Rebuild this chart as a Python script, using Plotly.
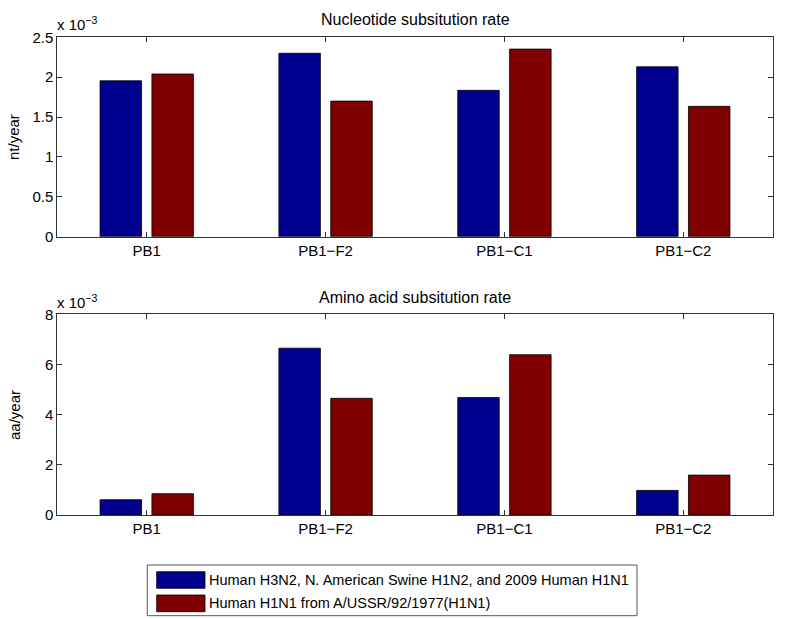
import plotly.graph_objects as go

# ---- data (values in units of 1e-3) ----
categories = ["PB1", "PB1\u2212F2", "PB1\u2212C1", "PB1\u2212C2"]
series_names = ["Human H3N2, N. American Swine H1N2, and 2009 Human H1N1",
                "Human H1N1 from A/USSR/92/1977(H1N1)"]
nt_blue = [1.955, 2.30, 1.835, 2.13]
nt_red = [2.04, 1.70, 2.352, 1.634]
aa_blue = [0.61, 6.65, 4.68, 0.98]
aa_red = [0.85, 4.65, 6.39, 1.59]
nt_ticks = [0, 0.5, 1, 1.5, 2, 2.5]
aa_ticks = [0, 2, 4, 6, 8]
titles = ["Nucleotide subsitution rate", "Amino acid subsitution rate"]
ylabels = ["nt/year", "aa/year"]

colors = ["#00008F", "#800000"]
W, H = 785, 619
FONT = "Liberation Sans, Arial, Helvetica, sans-serif"
AXC = "#333333"

def px(x):
    return x / W

def py(y):
    return 1 - y / H

fig = go.Figure()
for i, (vals, name) in enumerate(zip([nt_blue, nt_red], series_names)):
    fig.add_trace(go.Bar(x=categories, y=vals, name=name, marker_color=colors[i],
                         marker_line_color="black", marker_line_width=0.8,
                         xaxis="x", yaxis="y", showlegend=False))
for i, (vals, name) in enumerate(zip([aa_blue, aa_red], series_names)):
    fig.add_trace(go.Bar(x=categories, y=vals, name=name, marker_color=colors[i],
                         marker_line_color="black", marker_line_width=0.8,
                         xaxis="x2", yaxis="y2", showlegend=False))

xdom = [px(57.3), px(772.7)]
top_dom = [py(236.7), py(37.3)]
bot_dom = [py(515), py(314.3)]

axis_common = dict(showline=True, linecolor=AXC, linewidth=1, mirror="ticks",
                   ticks="inside", ticklen=5, tickcolor=AXC, tickwidth=1,
                   showgrid=False, zeroline=False, automargin=False,
                   tickfont=dict(family=FONT, size=15, color="black"))

fig.update_layout(
    template="none",
    width=W, height=H,
    margin=dict(l=0, r=0, t=0, b=0, pad=0, autoexpand=False),
    plot_bgcolor="white", paper_bgcolor="white",
    barmode="group", bargap=0.42, bargroupgap=0.2,
    font=dict(family=FONT, color="black"),
    xaxis=dict(domain=xdom, anchor="y", range=[-0.5, 3.5], **axis_common),
    yaxis=dict(domain=top_dom, anchor="x", range=[0, 2.5], tickvals=nt_ticks,
               ticktext=[f"{t:g}" for t in nt_ticks], **axis_common),
    xaxis2=dict(domain=xdom, anchor="y2", range=[-0.5, 3.5], **axis_common),
    yaxis2=dict(domain=bot_dom, anchor="x2", range=[0, 8], tickvals=aa_ticks,
                ticktext=[f"{t:g}" for t in aa_ticks], **axis_common),
)

anns = []
# titles
for t, ycen in zip(titles, [20, 298]):
    anns.append(dict(text=t, x=(xdom[0] + xdom[1]) / 2, y=py(ycen), xref="paper", yref="paper",
                     showarrow=False, font=dict(size=16, family=FONT, color="black"),
                     xanchor="center", yanchor="middle"))
# exponent labels
for ybase in [35, 313]:
    anns.append(dict(text="x 10<sup>\u22123</sup>", x=px(55), y=py(ybase), xref="paper", yref="paper",
                     showarrow=False, font=dict(size=15, family=FONT, color="black"),
                     xanchor="left", yanchor="bottom"))
# y labels
for lab, ycen in zip(ylabels, [137, 415]):
    anns.append(dict(text=lab, x=px(14), y=py(ycen), xref="paper", yref="paper",
                     showarrow=False, textangle=-90, font=dict(size=15, family=FONT, color="black"),
                     xanchor="center", yanchor="middle"))

shapes = []
# manual legend
shapes.append(dict(type="rect", xref="paper", yref="paper", x0=px(147.3), x1=px(637),
                   y0=py(615.7), y1=py(565), line=dict(color="#555555", width=1),
                   fillcolor="white"))
rows = [(571.7, 588.3), (595, 611.7)]
for (y0, y1), c, name in zip(rows, colors, series_names):
    shapes.append(dict(type="rect", xref="paper", yref="paper", x0=px(156.7), x1=px(205),
                       y0=py(y1), y1=py(y0), line=dict(color="black", width=0.8), fillcolor=c))
    anns.append(dict(text=name, x=px(207), y=py((y0 + y1) / 2), xref="paper", yref="paper",
                     showarrow=False, xanchor="left", yanchor="middle",
                     font=dict(size=14.5, family=FONT, color="black")))

fig.update_layout(annotations=anns, shapes=shapes)
fig.write_html(
    "out.html",
    config={"displayModeBar": False},
    post_script=("document.body.style.margin='0px';document.body.style.padding='0px';"
                 "document.documentElement.style.overflow='hidden';"
                 "document.body.style.overflow='hidden';"),
)
